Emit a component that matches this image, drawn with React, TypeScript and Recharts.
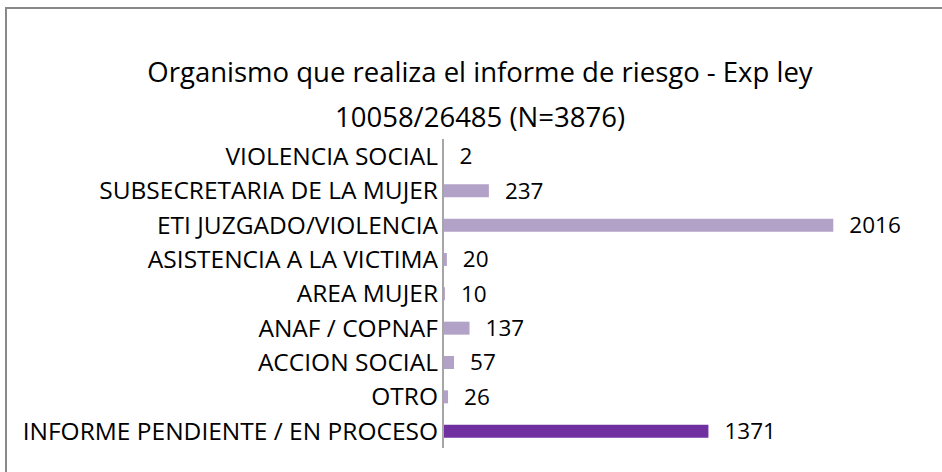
import React from "react";
import { BarChart, Bar, XAxis, YAxis, Cell, LabelList } from "recharts";

const categories = [
  "VIOLENCIA SOCIAL",
  "SUBSECRETARIA DE LA MUJER",
  "ETI JUZGADO/VIOLENCIA",
  "ASISTENCIA A LA VICTIMA",
  "AREA MUJER",
  "ANAF / COPNAF",
  "ACCION SOCIAL",
  "OTRO",
  "INFORME PENDIENTE / EN PROCESO",
];
const values = [2, 237, 2016, 20, 10, 137, 57, 26, 1371];
const barColors = ["#B3A2C7", "#B3A2C7", "#B3A2C7", "#B3A2C7", "#B3A2C7", "#B3A2C7", "#B3A2C7", "#B3A2C7", "#7030A0"];
const titleLines = ["Organismo que realiza el informe de riesgo - Exp ley", "10058/26485 (N=3876)"];

const data = categories.map((name, i) => ({ name, value: values[i] }));

const FONT = "'Open Sans', sans-serif";

export default function App() {
  return (
    <div style={{ position: "absolute", left: 0, top: 0, width: 942, height: 472, overflow: "hidden", background: "#fff", fontFamily: FONT }}>
      <div
        style={{
          position: "absolute",
          left: 5,
          top: 7,
          width: 1000,
          height: 600,
          borderLeft: "2px solid #898989",
          borderTop: "2px solid #898989",
        }}
      />
      <div style={{ position: "absolute", left: 0, width: 960, top: 49, textAlign: "center", fontSize: 27.5, lineHeight: "45px", color: "#000" }}>
        {titleLines.map((t) => (
          <div key={t}>{t}</div>
        ))}
      </div>
      <div style={{ position: "absolute", left: 0, top: 0 }}>
        <BarChart
          width={942}
          height={472}
          data={data}
          layout="vertical"
          margin={{ top: 139, right: 15, bottom: 24, left: 0 }}
        >
          <XAxis type="number" domain={[0, 2500]} hide />
          <YAxis
            type="category"
            dataKey="name"
            width={443}
            axisLine={{ stroke: "#A6A6A6", strokeWidth: 2 }}
            tickLine={false}
            tickSize={0}
            tickMargin={5}
            interval={0}
            tick={{ fill: "#000", fontSize: 24.5, fontFamily: FONT }}
          />
          <Bar dataKey="value" barSize={13} isAnimationActive={false}>
            {data.map((d, i) => (
              <Cell key={d.name} fill={barColors[i]} />
            ))}
            <LabelList dataKey="value" position="right" offset={16} fill="#000" fontSize={22.5} fontFamily={FONT} />
          </Bar>
        </BarChart>
      </div>
    </div>
  );
}
